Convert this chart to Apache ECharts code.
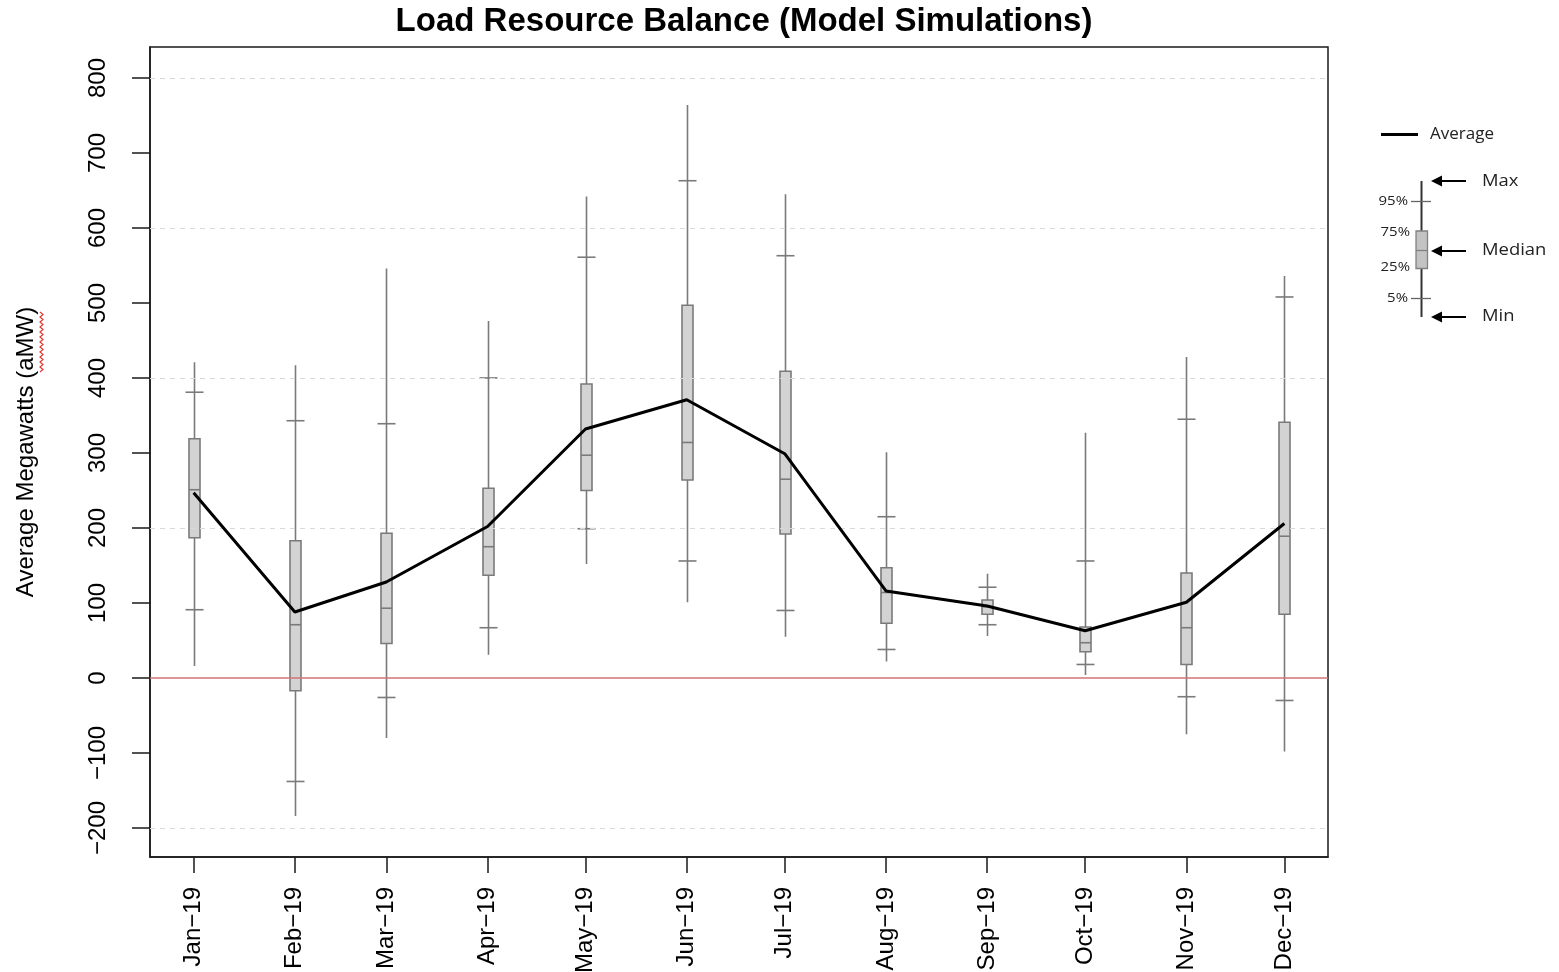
<!DOCTYPE html>
<html>
<head>
<meta charset="utf-8">
<title>Load Resource Balance (Model Simulations)</title>
<script src="https://cdn.jsdelivr.net/npm/echarts@6/dist/echarts.min.js"></script>
<style>
  html, body { margin: 0; padding: 0; background: #fff; }
  #chart { width: 1559px; height: 972px; }
</style>
</head>
<body>
<div id="chart"></div>
<script>
// Month labels and their day offsets from 1 Jan 2019 (x positions follow the calendar)
const monthLabels = ['Jan\u221219', 'Feb\u221219', 'Mar\u221219', 'Apr\u221219', 'May\u221219', 'Jun\u221219',
                     'Jul\u221219', 'Aug\u221219', 'Sep\u221219', 'Oct\u221219', 'Nov\u221219', 'Dec\u221219'];
const monthDay = [0, 31, 59, 90, 120, 151, 181, 212, 243, 273, 304, 334];

// Simulated load resource balance per month (aMW)
const minVal  = [16, -184, -80, 31, 152, 101, 55, 22, 56, 4, -75, -98];
const p5      = [91, -138, -26, 67, 199, 156, 90, 38, 71, 18, -25, -30];
const q1      = [187, -17, 46, 137, 250, 264, 192, 73, 85, 35, 18, 85];
const median  = [251, 71, 93, 175, 297, 314, 265, 114, 95, 47, 67, 189];
const q3      = [319, 183, 193, 253, 392, 497, 409, 147, 104, 68, 140, 341];
const p95     = [381, 343, 339, 400, 561, 663, 563, 215, 121, 156, 345, 508];
const maxVal  = [421, 417, 546, 476, 642, 764, 645, 301, 139, 327, 428, 536];
const average = [247, 88, 128, 202, 332, 371, 299, 116, 96, 63, 101, 206];

// Axis ticks and reference lines
const yTicks = [-200, -100, 0, 100, 200, 300, 400, 500, 600, 700, 800];
const gridValues = [-200, 200, 400, 600, 800];
const zeroValue = 0;

// Axis extents (data range padded by 4% on each side)
const xMin = -13.36, xMax = 347.36;
const yMin = -238.7, yMax = 841.3;

const fontR = "'Liberation Sans', Arial, sans-serif";
const fontKey = "'Open Sans', sans-serif";
const whiskerColor = '#7a7a7a';
const boxFill = '#d3d3d3';

const boxRows = monthDay.map((d, i) => [d, minVal[i], p5[i], q1[i], median[i], q3[i], p95[i], maxVal[i]]);
const avgRows = monthDay.map((d, i) => [d, average[i]]);

function renderBox(params, api) {
  const x = api.value(0);
  const at = v => api.coord([x, v]);
  const cx = Math.round(at(api.value(1))[0]) + 0.5;
  const yLo = at(api.value(1))[1];
  const y5 = at(api.value(2))[1];
  const yQ1 = at(api.value(3))[1];
  const yMed = at(api.value(4))[1];
  const yQ3 = at(api.value(5))[1];
  const y95 = at(api.value(6))[1];
  const yHi = at(api.value(7))[1];
  const halfBox = 5.5, halfBar = 9;
  const stroke = { stroke: whiskerColor, lineWidth: 1.6 };
  return {
    type: 'group',
    children: [
      { type: 'line', shape: { x1: cx, y1: yHi, x2: cx, y2: yLo }, style: stroke },
      { type: 'line', shape: { x1: cx - halfBar, y1: y95, x2: cx + halfBar, y2: y95 }, style: stroke },
      { type: 'line', shape: { x1: cx - halfBar, y1: y5, x2: cx + halfBar, y2: y5 }, style: stroke },
      { type: 'rect', shape: { x: cx - halfBox, y: yQ3, width: halfBox * 2, height: yQ1 - yQ3 },
        style: { fill: boxFill, stroke: whiskerColor, lineWidth: 1.6 } },
      { type: 'line', shape: { x1: cx - halfBox, y1: yMed, x2: cx + halfBox, y2: yMed }, style: stroke }
    ]
  };
}

// Key explaining the box glyph (drawn at the right of the plot)
const keyX = 1421.5;
const keyText = (text, x, y, size, align) => ({
  type: 'text', x: x, y: y, scaleX: 1.15,
  style: { text: text, fill: '#222', font: size + 'px ' + fontKey, textAlign: align, textVerticalAlign: 'middle' }
});
const keyArrow = (y) => ({
  type: 'group',
  children: [
    { type: 'line', shape: { x1: 1440, y1: y, x2: 1466, y2: y }, style: { stroke: '#000', lineWidth: 2 } },
    { type: 'polygon', shape: { points: [[1431, y], [1442, y - 5.5], [1442, y + 5.5]] }, style: { fill: '#000' } }
  ]
});
const keyElements = [
  { type: 'line', shape: { x1: keyX, y1: 181, x2: keyX, y2: 317 }, style: { stroke: '#333', lineWidth: 2 } },
  { type: 'line', shape: { x1: 1411, y1: 201.5, x2: 1431, y2: 201.5 }, style: { stroke: '#666', lineWidth: 1.3 } },
  { type: 'line', shape: { x1: 1411, y1: 298.5, x2: 1431, y2: 298.5 }, style: { stroke: '#666', lineWidth: 1.3 } },
  { type: 'rect', shape: { x: 1416, y: 231, width: 11.5, height: 37.5 }, style: { fill: '#c3c3c3', stroke: '#808080', lineWidth: 1.3 } },
  { type: 'line', shape: { x1: 1416, y1: 250.5, x2: 1427.5, y2: 250.5 }, style: { stroke: '#808080', lineWidth: 1.3 } },
  keyText('95%', 1408, 201, 13, 'right'),
  keyText('75%', 1410, 232, 13, 'right'),
  keyText('25%', 1410, 267, 13, 'right'),
  keyText('5%', 1408, 298, 13, 'right'),
  keyArrow(181), keyArrow(251), keyArrow(317),
  keyText('Max', 1482, 181, 16, 'left'),
  keyText('Median', 1482, 250, 16, 'left'),
  keyText('Min', 1482, 316, 16, 'left')
];

// Spell-check squiggle beneath "aMW" in the axis title
const squiggle = [];
for (let y = 312, k = 0; y <= 373; y += 2.5, k++) squiggle.push([k % 2 ? 43 : 40, y]);

const chart = echarts.init(document.getElementById('chart'), null, { renderer: 'canvas' });
chart.setOption({
  backgroundColor: '#ffffff',
  animation: false,
  title: {
    text: 'Load Resource Balance (Model Simulations)',
    left: 739, top: 0, textAlign: 'center',
    textStyle: { fontFamily: fontR, fontWeight: 'bold', fontSize: 33, color: '#000' }
  },
  legend: {
    data: ['Average'], left: 1376, top: 121, icon: 'rect', itemWidth: 37, itemHeight: 3,
    textStyle: { fontFamily: fontKey, fontSize: 17, color: '#222', padding: [0, 0, 0, 7] }
  },
  grid: {
    left: 150, right: 231, top: 47, bottom: 115, outerBoundsMode: 'none',
    show: true, borderColor: '#1a1a1a', borderWidth: 1.5
  },
  xAxis: {
    type: 'value', min: xMin, max: xMax,
    axisLine: { show: true, onZero: false, lineStyle: { color: '#1a1a1a', width: 1.5 } },
    axisTick: { show: true, customValues: monthDay, length: 16, lineStyle: { color: '#1a1a1a', width: 1.5 } },
    axisLabel: {
      customValues: monthDay, rotate: 90, margin: 30,
      fontFamily: fontR, fontSize: 24, color: '#000',
      formatter: v => monthLabels[monthDay.indexOf(v)]
    },
    splitLine: { show: false }
  },
  yAxis: {
    type: 'value', min: yMin, max: yMax,
    name: 'Average Megawatts (aMW)', nameLocation: 'middle', nameRotate: 90, nameGap: 112,
    nameTextStyle: { fontFamily: fontR, fontSize: 24, color: '#000' },
    axisLine: { show: true, onZero: false, lineStyle: { color: '#1a1a1a', width: 1.5 } },
    axisTick: { show: true, customValues: yTicks, length: 18, lineStyle: { color: '#1a1a1a', width: 1.5 } },
    axisLabel: {
      customValues: yTicks, rotate: 90, margin: 40,
      fontFamily: fontR, fontSize: 24, color: '#000',
      formatter: v => (v < 0 ? '\u2212' + Math.abs(v) : String(v))
    },
    splitLine: { show: false }
  },
  graphic: [
    ...keyElements,
    { type: 'polyline', shape: { points: squiggle }, style: { stroke: '#e03a3a', lineWidth: 1.2, fill: null } }
  ],
  series: [
    {
      name: 'Reference lines', type: 'line', data: [], silent: true, z: 1,
      markLine: {
        silent: true, symbol: 'none', label: { show: false }, animation: false,
        data: [
          ...gridValues.map(v => ({ yAxis: v, lineStyle: { color: '#d9d9d9', type: [5, 5], width: 1 } })),
          { yAxis: zeroValue, lineStyle: { color: '#d27474', type: 'solid', width: 1.5 } }
        ]
      }
    },
    {
      name: 'Distribution', type: 'custom', renderItem: renderBox, data: boxRows, z: 3,
      encode: { x: 0, y: [1, 2, 3, 4, 5, 6, 7] }, silent: true
    },
    {
      name: 'Average', type: 'line', data: avgRows, z: 5, showSymbol: false, symbol: 'none',
      color: '#000', lineStyle: { color: '#000', width: 3 }, silent: true
    }
  ]
});
</script>
</body>
</html>
